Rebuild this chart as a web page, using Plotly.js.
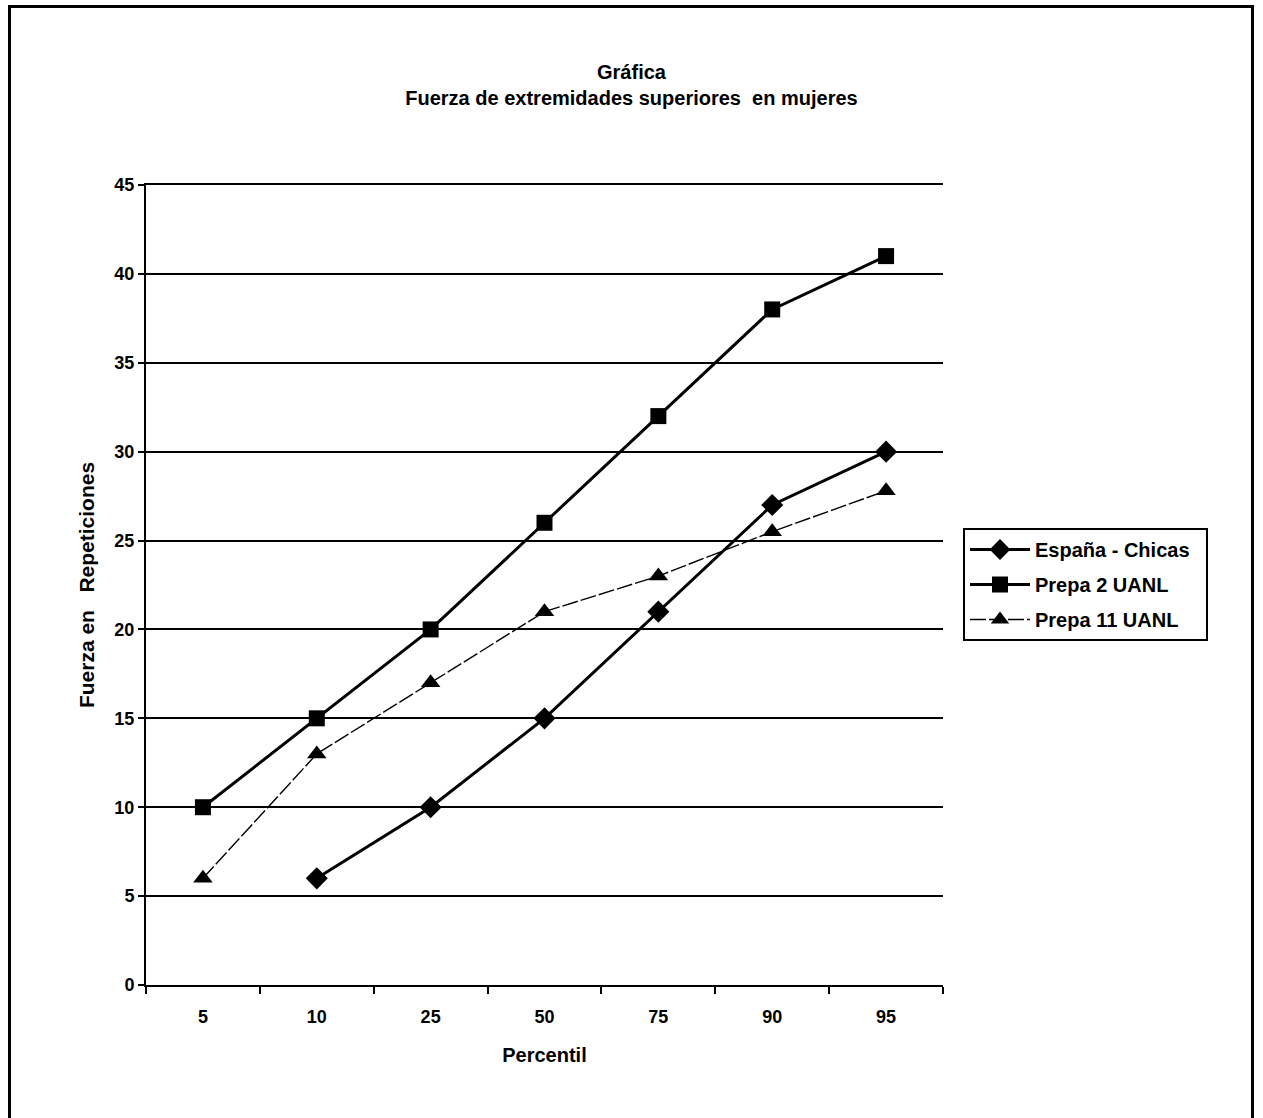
<!DOCTYPE html>
<html>
<head>
<meta charset="utf-8">
<script src="https://cdn.plot.ly/plotly-3.0.1.min.js"></script>
<style>
html,body{margin:0;padding:0;background:#fff;}
#wrap{position:relative;width:1263px;height:1118px;overflow:hidden;}
#frame{position:absolute;left:8px;top:5px;width:1246px;height:1130px;border:3px solid #000;box-sizing:border-box;pointer-events:none;z-index:5;}
#chart{position:absolute;left:0;top:0;width:1263px;height:1118px;}
</style>
</head>
<body>
<div id="wrap"><div id="chart"></div><div id="frame"></div></div>
<script>
const percentiles = ["5", "10", "25", "50", "75", "90", "95"];
const espanaChicas = [null, 6, 10, 15, 21, 27, 30];
const prepa2 = [10, 15, 20, 26, 32, 38, 41];
const prepa11 = [6, 13, 17, 21, 23, 25.5, 27.8];
const yTicks = [0, 5, 10, 15, 20, 25, 30, 35, 40, 45];
const seriesNames = ["España - Chicas", "Prepa 2 UANL", "Prepa 11 UANL"];

const font = "Liberation Sans, Arial, sans-serif";
const b = s => "<b>" + s + "</b>";

const traces = [
  {x: percentiles, y: espanaChicas, name: b(seriesNames[0]) + "&nbsp;&nbsp;", legendgroup: "a", type: "scatter", mode: "lines+markers",
   line: {color: "#000", width: 3}, marker: {symbol: "diamond", size: 17, color: "#000"}, connectgaps: false},
  {x: percentiles, y: prepa2, name: b(seriesNames[1]), legendgroup: "b", type: "scatter", mode: "lines+markers",
   line: {color: "#000", width: 3}, marker: {symbol: "square", size: 16, color: "#000"}},
  {x: percentiles, y: prepa11, name: b(seriesNames[2]), legendgroup: "c", type: "scatter", mode: "lines+markers",
   line: {color: "#000", width: 1.4, dash: "16px,3px"}, marker: {symbol: "triangle-up", size: 17, color: "#000"}}
];

const layout = {
  width: 1263, height: 1118,
  margin: {l: 146, r: 320, t: 185, b: 133},
  paper_bgcolor: "#fff", plot_bgcolor: "#fff",
  font: {family: font, color: "#000", size: 18},
  showlegend: true,
  title: {text: b("Gráfica") + "<br>" + b("Fuerza de extremidades superiores  en mujeres"),
          xref: "container", x: 0.5, xanchor: "center", yref: "container", y: 1 - 79/1118, yanchor: "top",
          font: {family: font, size: 20, color: "#000"}},
  xaxis: {type: "category", categoryorder: "array", categoryarray: percentiles,
          tickson: "boundaries", ticks: "outside", ticklen: 7, tickwidth: 2, tickcolor: "#000",
          showline: true, linecolor: "#000", linewidth: 2, mirror: true,
          showgrid: false, zeroline: false, ticklabelstandoff: 14,
          tickfont: {family: font, size: 18, color: "#000"},
          tickvals: percentiles, ticktext: percentiles.map(b),
          title: {text: b("Percentil"), font: {family: font, size: 20, color: "#000"}, standoff: 22},
          range: [-0.5, 6.5], fixedrange: true},
  yaxis: {range: [0, 45], tickvals: yTicks, ticktext: yTicks.map(v => b(String(v))),
          ticks: "outside", ticklen: 6, tickwidth: 2, tickcolor: "#000",
          showline: true, linecolor: "#000", linewidth: 2,
          showgrid: true, gridcolor: "#000", gridwidth: 2, zeroline: false,
          tickfont: {family: font, size: 18, color: "#000"},
          title: {text: b("Fuerza en   Repeticiones"), font: {family: font, size: 21, color: "#000"}, standoff: 14},
          fixedrange: true},
  legend: {bordercolor: "#000", borderwidth: 2, bgcolor: "#fff",
           font: {family: font, size: 20, color: "#000"}, tracegroupgap: 6, itemwidth: 60,
           xanchor: "left", yanchor: "top"}
};
const plotW = 1263 - 146 - 320, plotH = 1118 - 185 - 133;
layout.legend.x = (963 - 146) / plotW;
layout.legend.y = (985 - 528) / plotH;

Plotly.newPlot("chart", traces, layout, {displayModeBar: false, staticPlot: true});
</script>
</body>
</html>
